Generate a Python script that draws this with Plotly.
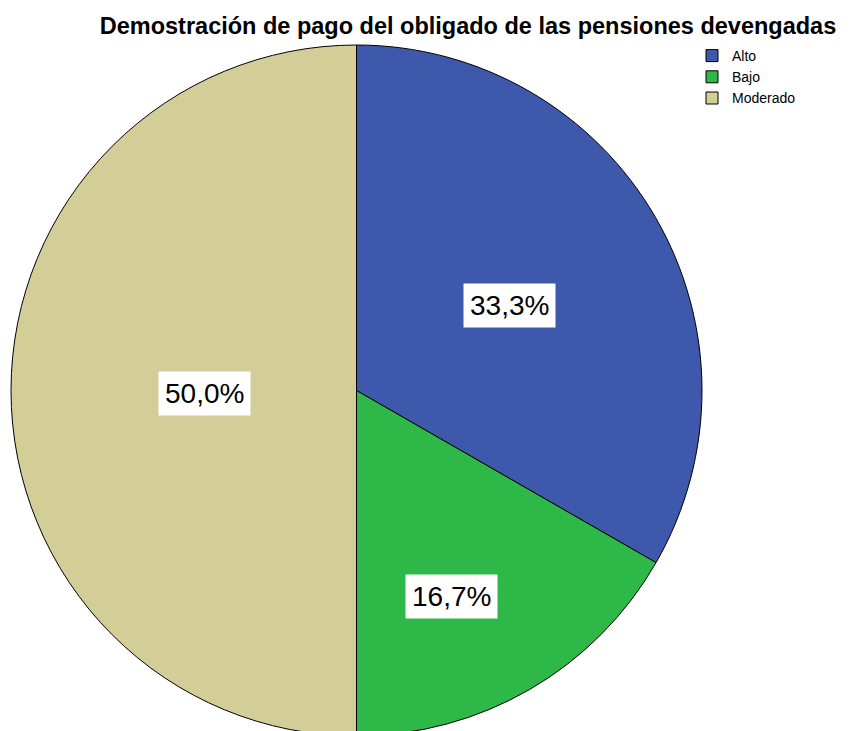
import math
import plotly.graph_objects as go

# data
categories = ['Alto', 'Bajo', 'Moderado']
percentages = [33.3, 16.7, 50.0]
colors = ['#3E58AC', '#2EB848', '#D3CE97']

title = 'Demostración de pago del obligado de las pensiones devengadas'

# where the boxed labels sit: fraction of the radius and a small turn (degrees)
label_radius = [0.51, 0.65, 0.44]
label_turn = [0, 5, 0]

# the page body adds 8px around the figure, so everything is laid out 8px up/left
W = 849
ml, mt = 3, 37
diam = 691
H = mt + diam
mr = W - ml - diam

fig = go.Figure(go.Pie(
    labels=categories,
    values=percentages,
    sort=False,
    direction='clockwise',
    rotation=0,
    marker=dict(colors=colors, line=dict(color='black', width=1)),
    textinfo='none',
    hoverinfo='label+percent',
))

# boxed percentage labels around the middle angle of each slice
total = sum(percentages)
start = 0.0
annotations = []
for val, rf, turn in zip(percentages, label_radius, label_turn):
    mid = (start + val / 2) / total * 2 * math.pi + math.radians(turn)
    start += val
    annotations.append(dict(
        x=0.5 + 0.5 * rf * math.sin(mid),
        y=0.5 + 0.5 * rf * math.cos(mid),
        xref='paper', yref='paper',
        xanchor='center', yanchor='middle',
        yshift=-3,
        text=f'{val:.1f}%'.replace('.', ','),
        showarrow=False,
        bgcolor='white',
        borderpad=6,
        font=dict(size=28, color='black', family='Liberation Sans, Arial'),
    ))

fig.update_layout(
    width=W, height=H,
    margin=dict(l=ml, r=mr, t=mt, b=0),
    paper_bgcolor='white',
    font=dict(family='Liberation Sans, Arial', color='black'),
    title=dict(
        text=f'<b>{title}</b>',
        x=460 / W, xanchor='center', xref='container',
        y=1 - 18 / H, yanchor='middle', yref='container',
        font=dict(size=23.5, color='black'),
    ),
    legend=dict(
        x=(684 - ml) / diam, xanchor='left',
        y=1 + (mt - 32) / diam, yanchor='top',
        font=dict(size=14),
        bgcolor='rgba(0,0,0,0)',
        tracegroupgap=0,
        itemwidth=30,
    ),
    annotations=annotations,
)

fig.write_html('out.html')
